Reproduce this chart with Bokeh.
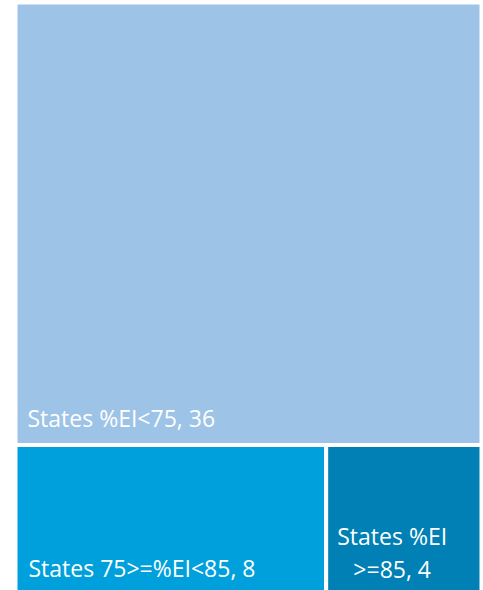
from bokeh.plotting import figure
from bokeh.models import Range1d, ColumnDataSource
from bokeh.core.properties import value
from bokeh.embed import file_html
from bokeh.resources import INLINE

# Data
categories = ["States %EI<75", "States 75>=%EI<85", "States %EI >=85"]
counts = [36, 8, 4]
colors = ["#9DC3E6", "#00A0DC", "#0080B4"]

total = sum(counts)
# Treemap layout: biggest on top row, remaining on bottom row
top_frac = counts[0] / total
bottom_total = counts[1] + counts[2]
split = counts[1] / bottom_total

left = [0.0, 0.0, split]
right = [1.0, split, 1.0]
bottom = [1 - top_frac, 0.0, 0.0]
top = [1.0, 1 - top_frac, 1 - top_frac]

src = ColumnDataSource(dict(left=left, right=right, bottom=bottom, top=top, color=colors))

W, H = 483, 590
p = figure(width=W, height=H, output_backend="svg", toolbar_location=None,
           x_range=Range1d(-15 / 466, 1 + 2 / 466), y_range=Range1d(2 / 590, 1 + 2 / 590),
           min_border=0, outline_line_color=None)
p.axis.visible = False
p.grid.visible = False
p.background_fill_color = "white"
p.border_fill_color = "white"

p.quad(left="left", right="right", bottom="bottom", top="top", source=src,
       fill_color="color", line_color="white", line_width=4)

font = value("Open Sans")
fs = "23px"
p.text(x=[left[0]], y=[bottom[0]], text=[f"{categories[0]}, {counts[0]}"],
       x_offset=12, y_offset=-27, text_color="white", text_font=font,
       text_font_size=fs, text_baseline="alphabetic", text_align="left")
p.text(x=[left[1]], y=[bottom[1]], text=[f"{categories[1]}, {counts[1]}"],
       x_offset=13, y_offset=-25, text_color="white", text_font=font,
       text_font_size=fs, text_baseline="alphabetic", text_align="left")
p.text(x=[left[2], left[2]], y=[bottom[2], bottom[2]],
       text=["States %EI", f">=85, {counts[2]}"],
       x_offset=66, y_offset=[-57, -24], text_color="white", text_font=font,
       text_font_size=fs, text_baseline="alphabetic", text_align="center")

open("out.html", "w").write(file_html(p, INLINE))
